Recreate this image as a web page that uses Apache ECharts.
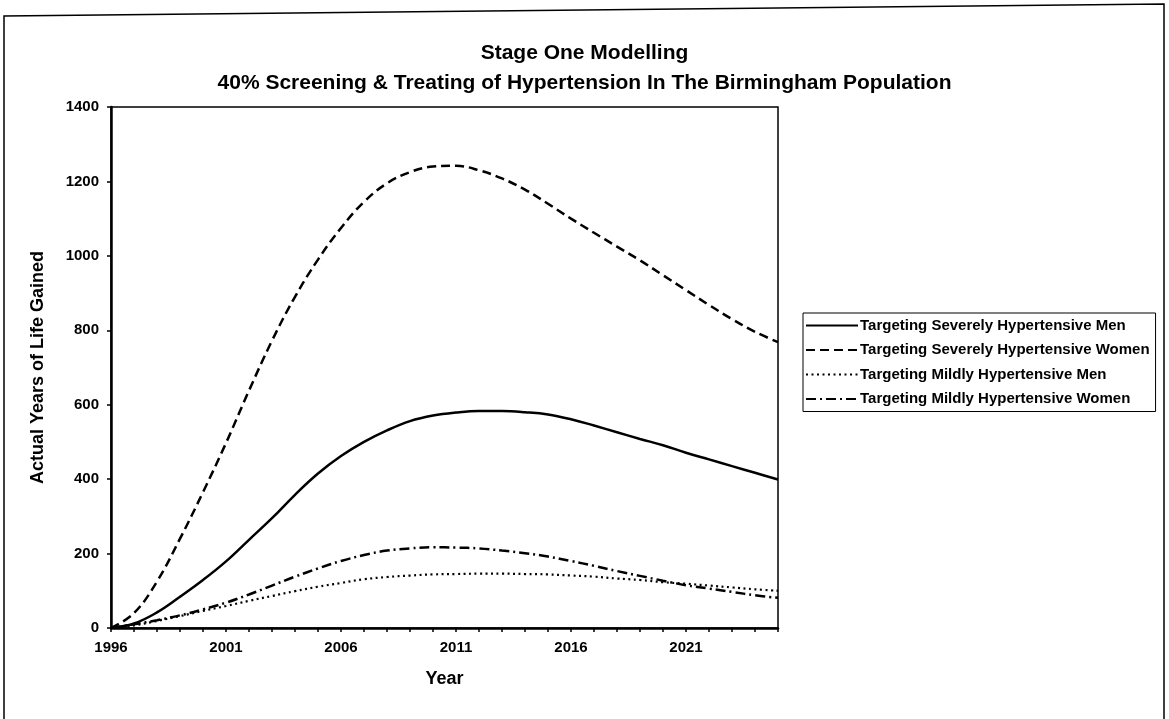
<!DOCTYPE html>
<html>
<head>
<meta charset="utf-8">
<script src="https://cdn.jsdelivr.net/npm/echarts@6/dist/echarts.min.js"></script>
<style>
html,body{margin:0;padding:0;background:#fff;}
#chart{width:1169px;height:719px;}
</style>
</head>
<body>
<div id="chart"></div>
<script>
const years = ['1996','1997','1998','1999','2000','2001','2002','2003','2004','2005','2006','2007','2008','2009','2010','2011','2012','2013','2014','2015','2016','2017','2018','2019','2020','2021','2022','2023','2024','2025'];
const severeMen = [0, 12, 42, 84, 129, 179, 237, 295, 358, 415, 462, 500, 531, 556, 571, 579, 583, 583, 580, 574, 561, 544, 526, 508, 491, 471, 453, 435, 417, 399];
const severeWomen = [0, 40, 125, 240, 365, 497, 638, 772, 890, 990, 1075, 1145, 1195, 1225, 1240, 1242, 1230, 1208, 1178, 1140, 1100, 1062, 1025, 988, 948, 908, 868, 830, 796, 768];
const mildMen = [0, 7, 19, 32, 46, 59, 73, 86, 99, 111, 121, 131, 137, 141, 144, 145, 146, 146, 145, 144, 141, 138, 133, 129, 123, 119, 114, 109, 104, 100];
const mildWomen = [0, 10, 21, 34, 50, 68, 90, 114, 138, 160, 180, 196, 208, 214, 217, 216, 214, 208, 201, 192, 180, 167, 153, 140, 127, 115, 106, 97, 88, 81];
const seriesNames = ['Targeting Severely Hypertensive Men','Targeting Severely Hypertensive Women','Targeting Mildly Hypertensive Men','Targeting Mildly Hypertensive Women'];
const titleLines = ['Stage One Modelling','40% Screening & Treating of Hypertension In The Birmingham Population'];

const FONT = "'Liberation Sans', Arial, sans-serif";
const chart = echarts.init(document.getElementById('chart'), null, {renderer:'canvas'});

function lineSeries(name, data, type, width) {
  return {
    name: name, type: 'line', data: data, smooth: 0.4,
    symbol: 'none', showSymbol: false,
    lineStyle: { color: '#000', width: width, type: type },
    itemStyle: { color: '#000' },
    emphasis: { disabled: true }
  };
}

chart.setOption({
  animation: false,
  backgroundColor: '#fff',
  title: {
    text: titleLines.join('\n'),
    left: 'center', top: 33,
    textStyle: { fontFamily: FONT, fontSize: 21, fontWeight: 'bold', color: '#000', lineHeight: 30 }
  },
  grid: { left: 111, right: 391, top: 107, bottom: 91, show: true, borderColor: '#000', borderWidth: 1.5, containLabel: false },
  legend: {
    orient: 'vertical', left: 803, top: 313,
    itemWidth: 52, itemHeight: 14, itemGap: 9.5,
    padding: [5, 6, 5, 2],
    borderColor: '#000', borderWidth: 1,
    itemStyle: { opacity: 0 },
    textStyle: { fontFamily: FONT, fontSize: 15, fontWeight: 'bold', color: '#000', padding: [0,0,0,-3] },
    data: seriesNames
  },
  xAxis: {
    type: 'category', data: years, boundaryGap: false,
    name: 'Year', nameLocation: 'middle', nameGap: 42,
    nameTextStyle: { fontFamily: FONT, fontSize: 18, fontWeight: 'bold', color: '#000' },
    axisLine: { lineStyle: { color: '#000', width: 2.5 } },
    axisTick: { show: true, interval: 0, length: 4, lineStyle: { color: '#000', width: 1.5 } },
    axisLabel: { interval: 4, margin: 12, fontFamily: FONT, fontSize: 15, fontWeight: 'bold', color: '#000' },
    splitLine: { show: false }
  },
  yAxis: {
    type: 'value', min: 0, max: 1400, interval: 200,
    name: 'Actual Years of Life Gained', nameLocation: 'middle', nameGap: 64,
    nameTextStyle: { fontFamily: FONT, fontSize: 18, fontWeight: 'bold', color: '#000' },
    axisLine: { show: true, lineStyle: { color: '#000', width: 2.5 } },
    axisTick: { show: true, length: 4, lineStyle: { color: '#000', width: 1.5 } },
    axisLabel: { margin: 12, fontFamily: FONT, fontSize: 15, fontWeight: 'bold', color: '#000', formatter: function (v) { return String(v); } },
    splitLine: { show: false }
  },
  series: [
    lineSeries(seriesNames[0], severeMen, 'solid', 2.5),
    lineSeries(seriesNames[1], severeWomen, [9, 5], 2.5),
    lineSeries(seriesNames[2], mildMen, [2, 3.5], 2.2),
    lineSeries(seriesNames[3], mildWomen, [10, 4, 2, 4], 2.5)
  ],
  graphic: [{
    type: 'polyline',
    shape: { points: [[4, 719], [4, 16], [1164, 4], [1164, 719]] },
    style: { stroke: '#000', lineWidth: 1.5, fill: null },
    silent: true
  }]
});
</script>
</body>
</html>
